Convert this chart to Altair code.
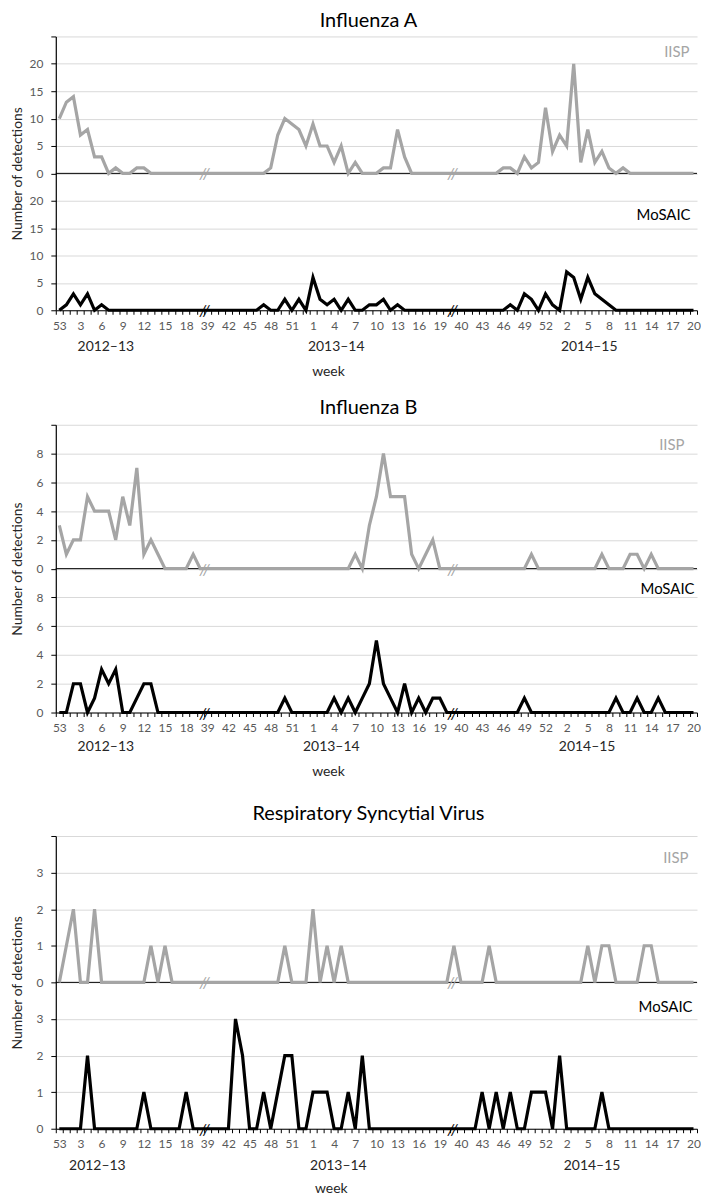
import altair as alt
import pandas as pd

# ---------------- data ----------------
WEEK_LABELS = (
    ["53", "1", "2", "3", "4", "5", "6", "7", "8", "9", "10", "11", "12", "13", "14", "15", "16", "17", "18", "19", "20"]
    + ["39", "40", "41", "42", "43", "44", "45", "46", "47", "48", "49", "50", "51", "52", "53",
       "1", "2", "3", "4", "5", "6", "7", "8", "9", "10", "11", "12", "13", "14", "15", "16", "17", "18", "19", "20"]
    + ["39", "40", "41", "42", "43", "44", "45", "46", "47", "48", "49", "50", "51", "52", "53",
       "1", "2", "3", "4", "5", "6", "7", "8", "9", "10", "11", "12", "13", "14", "15", "16", "17", "18", "19", "20"]
)

SEASONS = ["2012–13", "2013–14", "2014–15"]
TITLES = ["Influenza A", "Influenza B", "Respiratory Syncytial Virus"]

FLU_A_IISP = (
    [10, 13, 14, 7, 8, 3, 3, 0, 1, 0, 0, 1, 1, 0, 0, 0, 0, 0, 0, 0, 0]
    + [0, 0, 0, 0, 0, 0, 0, 0, 0, 1, 7, 10, 9, 8, 5, 9, 5, 5, 2, 5, 0, 2, 0, 0, 0, 1, 1, 8, 3, 0, 0, 0, 0, 0, 0]
    + [0, 0, 0, 0, 0, 0, 0, 1, 1, 0, 3, 1, 2, 12, 4, 7, 5, 20, 2, 8, 2, 4, 1, 0, 1, 0, 0, 0, 0, 0, 0, 0, 0, 0, 0]
)
FLU_A_MOSAIC = (
    [0, 1, 3, 1, 3, 0, 1, 0, 0, 0, 0, 0, 0, 0, 0, 0, 0, 0, 0, 0, 0]
    + [0, 0, 0, 0, 0, 0, 0, 0, 1, 0, 0, 2, 0, 2, 0, 6, 2, 1, 2, 0, 2, 0, 0, 1, 1, 2, 0, 1, 0, 0, 0, 0, 0, 0, 0]
    + [0, 0, 0, 0, 0, 0, 0, 0, 1, 0, 3, 2, 0, 3, 1, 0, 7, 6, 2, 6, 3, 2, 1, 0, 0, 0, 0, 0, 0, 0, 0, 0, 0, 0, 0]
)
FLU_B_IISP = (
    [3, 1, 2, 2, 5, 4, 4, 4, 2, 5, 3, 7, 1, 2, 1, 0, 0, 0, 0, 1, 0]
    + [0, 0, 0, 0, 0, 0, 0, 0, 0, 0, 0, 0, 0, 0, 0, 0, 0, 0, 0, 0, 0, 1, 0, 3, 5, 8, 5, 5, 5, 1, 0, 1, 2, 0, 0]
    + [0, 0, 0, 0, 0, 0, 0, 0, 0, 0, 0, 1, 0, 0, 0, 0, 0, 0, 0, 0, 0, 1, 0, 0, 0, 1, 1, 0, 1, 0, 0, 0, 0, 0, 0]
)
FLU_B_MOSAIC = (
    [0, 0, 2, 2, 0, 1, 3, 2, 3, 0, 0, 1, 2, 2, 0, 0, 0, 0, 0, 0, 0]
    + [0, 0, 0, 0, 0, 0, 0, 0, 0, 0, 0, 1, 0, 0, 0, 0, 0, 0, 1, 0, 1, 0, 1, 2, 5, 2, 1, 0, 2, 0, 1, 0, 1, 1, 0]
    + [0, 0, 0, 0, 0, 0, 0, 0, 0, 0, 1, 0, 0, 0, 0, 0, 0, 0, 0, 0, 0, 0, 0, 1, 0, 0, 1, 0, 0, 1, 0, 0, 0, 0, 0]
)
RSV_IISP = (
    [0, 1, 2, 0, 0, 2, 0, 0, 0, 0, 0, 0, 0, 1, 0, 1, 0, 0, 0, 0, 0]
    + [0, 0, 0, 0, 0, 0, 0, 0, 0, 0, 0, 1, 0, 0, 0, 2, 0, 1, 0, 1, 0, 0, 0, 0, 0, 0, 0, 0, 0, 0, 0, 0, 0, 0, 0]
    + [1, 0, 0, 0, 0, 1, 0, 0, 0, 0, 0, 0, 0, 0, 0, 0, 0, 0, 0, 1, 0, 1, 1, 0, 0, 0, 0, 1, 1, 0, 0, 0, 0, 0, 0]
)
RSV_MOSAIC = (
    [0, 0, 0, 0, 2, 0, 0, 0, 0, 0, 0, 0, 1, 0, 0, 0, 0, 0, 1, 0, 0]
    + [0, 0, 0, 0, 3, 2, 0, 0, 1, 0, 1, 2, 2, 0, 0, 1, 1, 1, 0, 0, 1, 0, 2, 0, 0, 0, 0, 0, 0, 0, 0, 0, 0, 0, 0]
    + [0, 0, 0, 0, 1, 0, 1, 0, 1, 0, 0, 1, 1, 1, 0, 2, 0, 0, 0, 0, 0, 1, 0, 0, 0, 0, 0, 0, 0, 0, 0, 0, 0, 0, 0]
)

# y-axis label maximum and step for each half of each panel
Y_MAX = [20, 8, 3]
Y_STEP = [5, 2, 1]

# ---------------- layout / style ----------------
WIDTH = 644
HEIGHTS = [275, 289, 294]
GRAY = "#a5a5a5"
TEXT_DARK = "#262626"
FONT = "Lato"
BREAK_AT = [20.6, 55.8]
LAYOUT = [
    dict(title_offset=5, season_at=[6.6, 39.3, 75.2], season_dy=37, week_at=38.2, week_dy=62,
         iisp_xy=(7.5, 16), mosaic_xy=(6.5, 179)),
    dict(title_offset=6, season_at=[6.6, 38.6, 74.9], season_dy=35, week_at=38.2, week_dy=60,
         iisp_xy=(12.5, 20), mosaic_xy=(2.5, 165)),
    dict(title_offset=12, season_at=[5.4, 39.6, 75.6], season_dy=37, week_at=38.6, week_dy=61,
         iisp_xy=(8.5, 22), mosaic_xy=(4.5, 172)),
]

N = len(WEEK_LABELS)
STEP_PX = WIDTH / N
WEEKS_JS = "[" + ",".join("'" + w + "'" for w in WEEK_LABELS) + "]"


def make_panel(k, iisp, mosaic):
    ymax, step, height, lay = Y_MAX[k], Y_STEP[k], HEIGHTS[k], LAYOUT[k]
    zero = ymax + step
    top = 2 * zero

    long_df = pd.DataFrame({
        "idx": list(range(N)) * 2,
        "y": [v + zero for v in iisp] + list(mosaic),
        "source": ["IISP"] * N + ["MoSAIC"] * N,
    })

    xaxis = alt.Axis(
        values=[i - 0.5 for i in range(N + 1)],
        labelExpr=f"(datum.value + 0.5) % 3 == 0 && datum.value < {N - 1} ? {WEEKS_JS}[datum.value + 0.5] : ''",
        labelOffset=STEP_PX / 2, labelFlush=False, labelOverlap=False, labelBound=False,
        labelFontSize=12, labelColor="#595959", labelPadding=6,
        tickSize=4, tickColor="black", domainColor="black", domainWidth=1.2,
        grid=False,
    )
    xenc = alt.X("idx:Q", scale=alt.Scale(domain=[-0.5, N - 0.5], nice=False, zero=False),
                 axis=xaxis, title=None)

    yaxis = alt.Axis(
        values=list(range(0, top + 1, step)),
        labelExpr=f"datum.value >= {top} ? '' : datum.value >= {zero} ? '' + (datum.value - {zero}) : '' + datum.value",
        labelFontSize=12, labelColor="#595959", labelPadding=8,
        tickSize=5, tickColor="black", domainColor="black", domainWidth=1.2,
        grid=True, gridColor="#d9d9d9", gridWidth=1,
        minExtent=29, maxExtent=29, titlePadding=2,
        titleFontSize=14, titleFontWeight="normal", titleColor=TEXT_DARK,
    )
    yenc = alt.Y("y:Q", scale=alt.Scale(domain=[0, top], nice=False, zero=True),
                 axis=yaxis, title="Number of detections")

    color = alt.Color("source:N", scale=alt.Scale(domain=["IISP", "MoSAIC"], range=[GRAY, "black"]),
                      legend=None)

    rule = alt.Chart(pd.DataFrame({"y": [zero]})).mark_rule(color="black", strokeWidth=1).encode(y=yenc)

    lines = alt.Chart(long_df).mark_line(strokeWidth=3.2).encode(
        x=xenc, y=yenc, color=color, detail="source:N")

    breaks_df = pd.DataFrame({
        "idx": BREAK_AT * 2,
        "y": [zero] * len(BREAK_AT) + [0] * len(BREAK_AT),
        "source": ["IISP"] * len(BREAK_AT) + ["MoSAIC"] * len(BREAK_AT),
    })
    breaks = alt.Chart(breaks_df).mark_text(text="//", fontSize=16, fontStyle="italic",
                                             baseline="middle", dy=1).encode(
        x=xenc, y=yenc, color=color)

    seasons = alt.Chart(pd.DataFrame({"idx": lay["season_at"], "label": SEASONS})).mark_text(
        fontSize=14, color=TEXT_DARK, baseline="middle").encode(
        x=xenc, y=alt.value(height + lay["season_dy"]), text="label:N")

    week = alt.Chart(pd.DataFrame({"idx": [lay["week_at"]], "label": ["week"]})).mark_text(
        fontSize=14, color=TEXT_DARK, baseline="middle").encode(
        x=xenc, y=alt.value(height + lay["week_dy"]), text="label:N")

    iisp_lab = alt.Chart(pd.DataFrame({"t": ["IISP"]})).mark_text(
        fontSize=15, color=GRAY, align="right", baseline="middle").encode(
        x=alt.value(WIDTH - lay["iisp_xy"][0]), y=alt.value(lay["iisp_xy"][1]), text="t:N")
    mosaic_lab = alt.Chart(pd.DataFrame({"t": ["MoSAIC"]})).mark_text(
        fontSize=15, color="black", align="right", baseline="middle").encode(
        x=alt.value(WIDTH - lay["mosaic_xy"][0]), y=alt.value(lay["mosaic_xy"][1]), text="t:N")

    return alt.layer(rule, lines, breaks, seasons, week, iisp_lab, mosaic_lab).properties(
        width=WIDTH, height=height,
        title=alt.TitleParams(TITLES[k], fontSize=20, fontWeight="normal", color="black",
                              anchor="middle", dx=-8, offset=lay["title_offset"]),
    )


pa = make_panel(0, FLU_A_IISP, FLU_A_MOSAIC)
pb = make_panel(1, FLU_B_IISP, FLU_B_MOSAIC)
pc = make_panel(2, RSV_IISP, RSV_MOSAIC)

chart = alt.vconcat(alt.vconcat(pa, pb, spacing=19), pc, spacing=24).properties(
    padding={"left": 3, "top": 0, "right": 0, "bottom": 0}
).configure_view(stroke=None).configure_axis(
    labelFont=FONT, titleFont=FONT
).configure_text(font=FONT).configure_title(font=FONT)

chart.save("out.html", embed_options={"renderer": "svg", "actions": False})
